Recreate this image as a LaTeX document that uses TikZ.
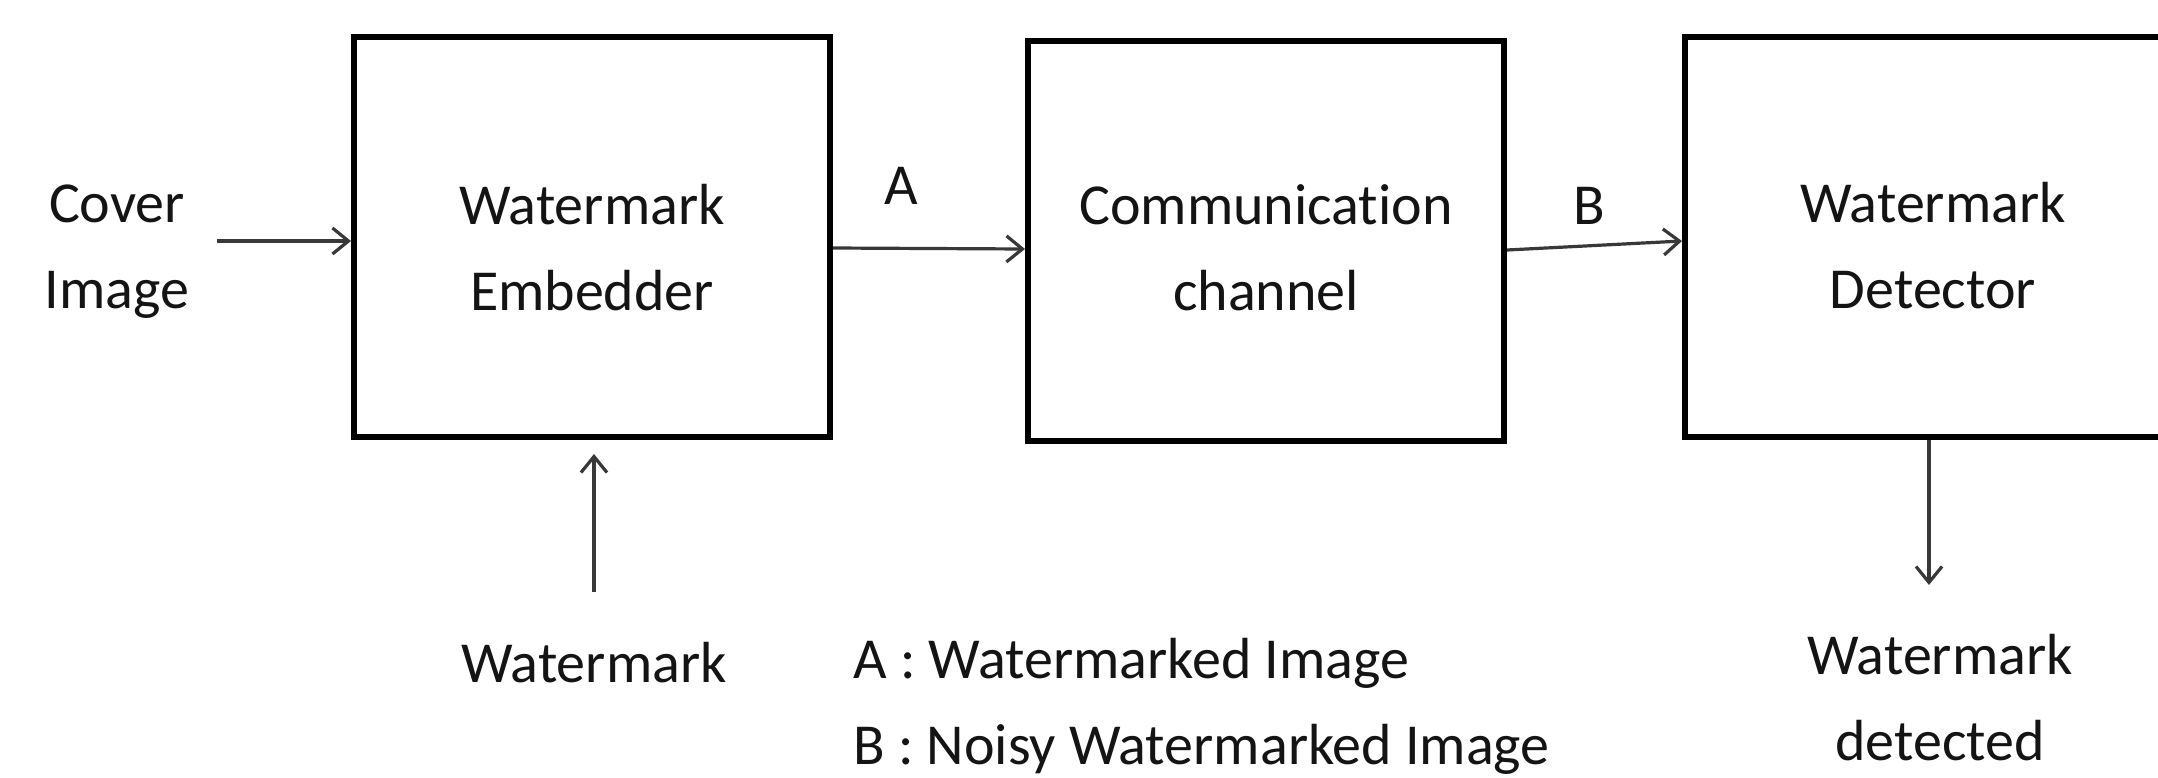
\documentclass[tikz,border=0pt]{standalone}
\usepackage{fontspec}
\setmainfont{Carlito}[Ligatures=NoCommon]
\usetikzlibrary{arrows.meta,calc}
\begin{document}
\begin{tikzpicture}[x=0.5pt,y=-0.5pt,
  blockbox/.style={draw=black,line width=3pt,minimum width=238pt,minimum height=200pt,inner sep=0pt},
  txt/.style={font=\fontsize{29}{43}\selectfont,align=center,inner sep=0pt,text=black!92},
  arr/.style={draw=black!78,line width=1.6pt,-{Straight Barb[length=8pt,width=13pt,line width=1.6pt]}}]
\clip (0,0) rectangle (2158,777);
\fill[white] (0,0) rectangle (2158,777);
% boxes
\node[blockbox] (b1) at (592,237) {};
\node[blockbox] (b2) at (1266,241) {};
\node[blockbox] (b3) at (1923,237) {};
% box texts
\node[txt] (t1) at (592,248) {Watermark\\Embedder};
\node[txt] (t2) at (1266,248) {Communication\\channel};
\node[txt] (t3) at (1933,246) {Watermark\\Detector};
% outer texts
\node[txt] (cover) at (117,252) {Cover\\Image};
\node[txt] (wm) at (594,663) {Watermark};
\node[txt] (det) at (1940,698) {Watermark\\detected};
\node[txt] (la) at (901,186) {A};
\node[txt] (lb) at (1589,206) {B};
\node[txt,align=left,anchor=west] (legend) at (853,706) {A : Watermarked Image\\B : Noisy Watermarked Image};
% connectors
\coordinate (cin) at (217,241);
\draw[arr] (cin) -- (cin -| b1.west);
\draw[arr] ([yshift=-5.5pt]b1.east) -- ([yshift=-4pt]b2.west);
\draw[arr] ([yshift=-4.5pt]b2.east) -- ([yshift=-2pt]b3.west);
\coordinate (wmtop) at (594,592);
\draw[arr,shorten >=7pt] (wmtop) -- (wmtop |- b1.south);
\coordinate (detout) at (1929,585);
\draw[arr] (detout |- b3.south) -- (detout);
\end{tikzpicture}
\end{document}
